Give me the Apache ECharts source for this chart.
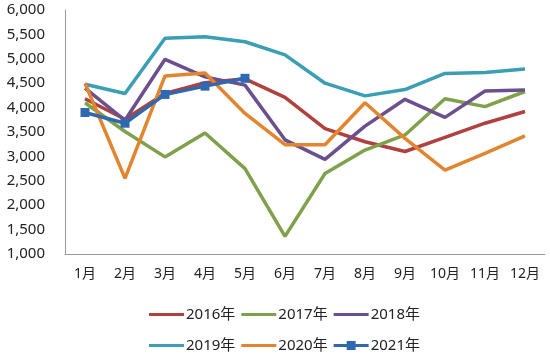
<!DOCTYPE html>
<html>
<head>
<meta charset="utf-8">
<script src="https://cdn.jsdelivr.net/npm/echarts@6/dist/echarts.min.js"></script>
<style>
html,body{margin:0;padding:0;background:#fff;}
#chart{width:550px;height:355px;}
</style>
</head>
<body>
<div id="chart"></div>
<script>
const months = ['1月','2月','3月','4月','5月','6月','7月','8月','9月','10月','11月','12月'];
const s2016 = [4180, 3760, 4290, 4510, 4590, 4210, 3570, 3300, 3100, 3390, 3680, 3920];
const s2017 = [4100, 3510, 2990, 3480, 2750, 1360, 2650, 3130, 3440, 4180, 4020, 4330];
const s2018 = [4400, 3740, 4990, 4630, 4460, 3340, 2940, 3620, 4170, 3800, 4340, 4360];
const s2019 = [4480, 4290, 5420, 5450, 5350, 5080, 4500, 4240, 4370, 4700, 4720, 4790];
const s2020 = [4500, 2550, 4650, 4710, 3880, 3240, 3240, 4100, 3370, 2720, 3060, 3420];
const s2021 = [3900, 3680, 4270, 4440, 4600];
const yTicks = [1000, 6000, 500];

const font = '"Noto Sans", "Noto Sans CJK SC", sans-serif';
const thinIcon = 'path://M0,3.4 L35,3.4 L35,6.6 L0,6.6 Z M0,0 L0.01,0 L0,0.01 Z M0,10 L0.01,10 L0,9.99 Z';
const sqIcon = 'path://M0,3.4 L35,3.4 L35,6.6 L0,6.6 Z M13,0.5 L22,0.5 L22,9.5 L13,9.5 Z M0,0 L0.01,0 L0,0.01 Z M0,10 L0.01,10 L0,9.99 Z';
const chart = echarts.init(document.getElementById('chart'));
function line(name, data, color, sym) {
  return {
    name: name, type: 'line', data: data,
    symbol: sym ? 'rect' : 'none', symbolSize: 9, showSymbol: !!sym,
    lineStyle: {width: 3.5, color: color}, itemStyle: {color: color},
    emphasis: {disabled: true}, animation: false
  };
}
const legendText = {fontSize: 15, color: '#222', fontFamily: font, padding: [0, 0, 0, -3]};
chart.setOption({
  animation: false,
  grid: {left: 65, right: 5, top: 10, bottom: 101},
  legend: [
    {data: [{name: '2016年', icon: thinIcon}, {name: '2017年', icon: thinIcon}, {name: '2018年', icon: thinIcon}],
     left: 144, top: 302, itemWidth: 35, itemHeight: 10, itemGap: 6, textStyle: legendText},
    {data: [{name: '2019年', icon: thinIcon}, {name: '2020年', icon: thinIcon}, {name: '2021年', icon: sqIcon}],
     left: 144, top: 333, itemWidth: 35, itemHeight: 10, itemGap: 6, textStyle: legendText}
  ],
  xAxis: {
    type: 'category', data: months, boundaryGap: true,
    axisLine: {lineStyle: {color: '#9a9a9a', width: 1}},
    axisTick: {show: false},
    axisLabel: {fontSize: 14, color: '#222', margin: 13, fontFamily: font, interval: 0}
  },
  yAxis: {
    type: 'value', min: yTicks[0], max: yTicks[1], interval: yTicks[2],
    axisLine: {show: true, lineStyle: {color: '#9a9a9a', width: 1}},
    axisTick: {show: false},
    splitLine: {show: false},
    axisLabel: {fontSize: 15, color: '#222', margin: 20, fontFamily: font,
      formatter: v => v.toLocaleString('en-US')}
  },
  series: [
    line('2016年', s2016, '#B0413E'),
    line('2017年', s2017, '#7FA14A'),
    line('2018年', s2018, '#6C4F8F'),
    line('2019年', s2019, '#3A9EB5'),
    line('2020年', s2020, '#E3842F'),
    line('2021年', s2021, '#3068B0', true)
  ]
});
</script>
</body>
</html>
